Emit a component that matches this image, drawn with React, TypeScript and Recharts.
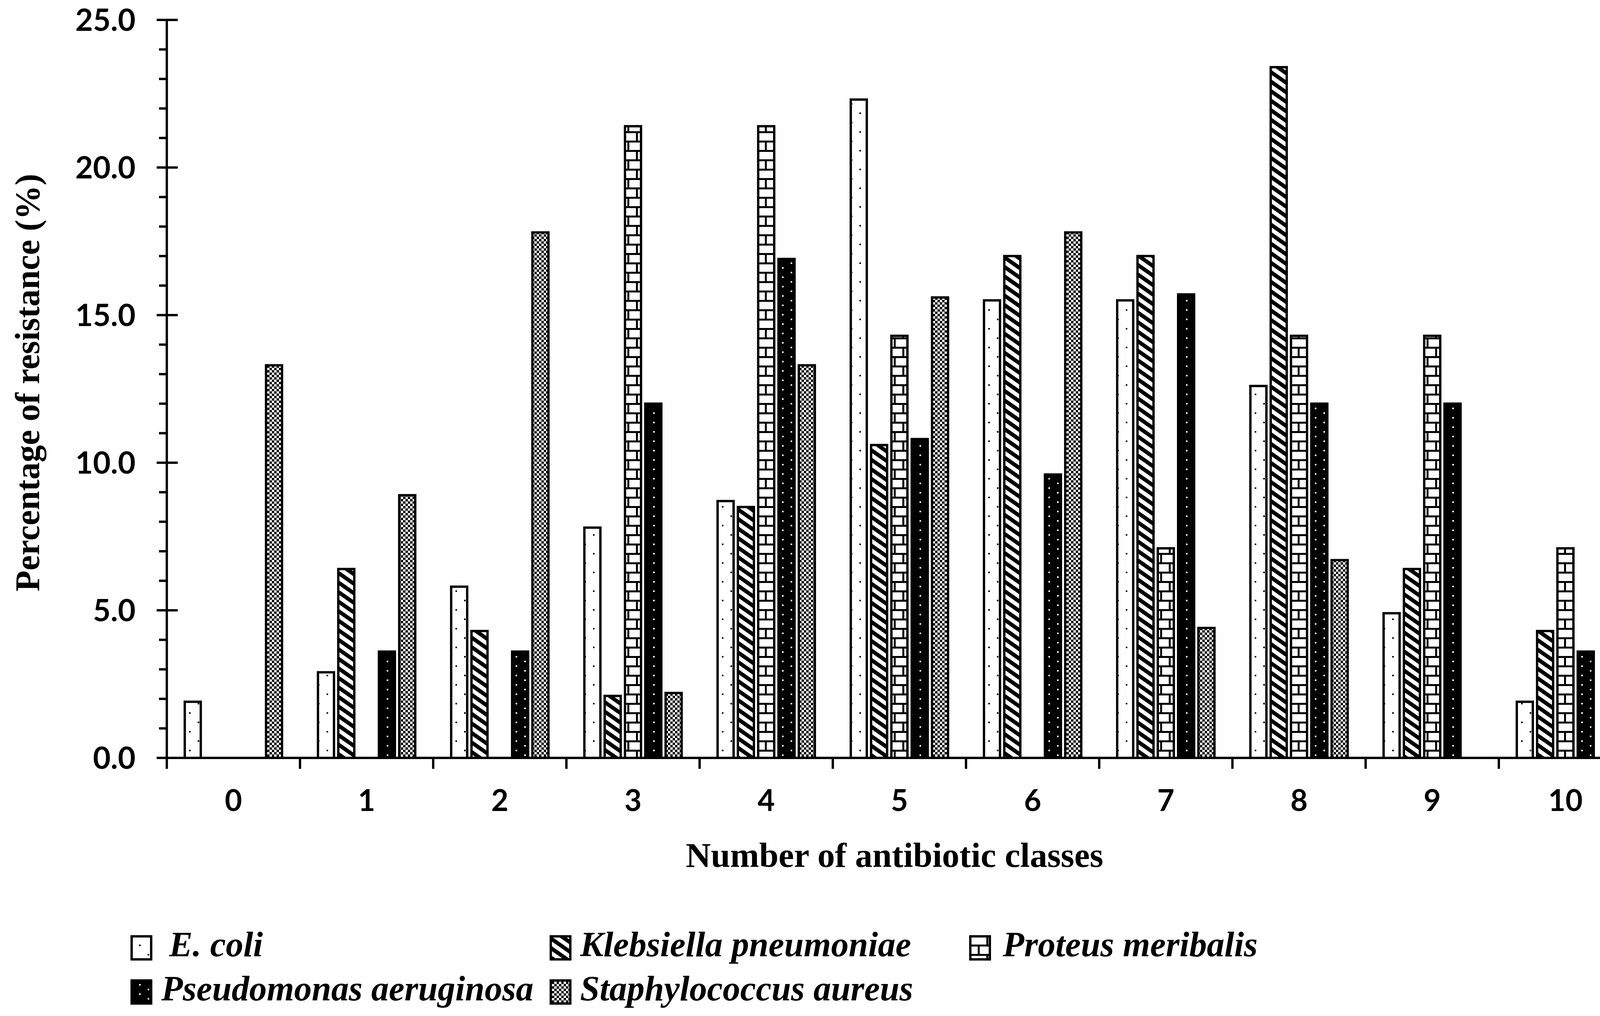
import { Bar, BarChart, Legend, XAxis, YAxis } from "recharts";

const CLASSES = ["0", "1", "2", "3", "4", "5", "6", "7", "8", "9", "10"];

const E_COLI = [1.9, 2.9, 5.8, 7.8, 8.7, 22.3, 15.5, 15.5, 12.6, 4.9, 1.9];
const KLEBSIELLA = [0, 6.4, 4.3, 2.1, 8.5, 10.6, 17.0, 17.0, 23.4, 6.4, 4.3];
const PROTEUS = [0, 0, 0, 21.4, 21.4, 14.3, 0, 7.1, 14.3, 14.3, 7.1];
const PSEUDOMONAS = [0, 3.6, 3.6, 12.0, 16.9, 10.8, 9.6, 15.7, 12.0, 12.0, 3.6];
const STAPHYLOCOCCUS = [13.3, 8.9, 17.8, 2.2, 13.3, 15.6, 17.8, 4.4, 6.7, 0, 0];

const Y_TICKS = [
  0, 1, 2, 3, 4, 5, 6, 7, 8, 9, 10, 11, 12, 13, 14, 15, 16, 17, 18, 19, 20,
  21, 22, 23, 24, 25,
];

const data = CLASSES.map((cls, i) => ({
  cls,
  ecoli: E_COLI[i],
  kleb: KLEBSIELLA[i],
  proteus: PROTEUS[i],
  pseudo: PSEUDOMONAS[i],
  staph: STAPHYLOCOCCUS[i],
}));

const W = 4208;
const H = 2602;
const AXIS_X = 427;
const RIGHT = 30;
const BAND = (W - AXIS_X - RIGHT) / CLASSES.length;

const SANS = "Lato, 'Open Sans', sans-serif";
const SERIF = "'Liberation Serif', 'Times New Roman', serif";

// legend slots: [swatch x, text x, swatch top, baseline]
const LEGEND_POS = [
  [334, 433, 2395, 2449],
  [1407, 1485, 2395, 2449],
  [2481, 2567, 2395, 2449],
  [334, 413, 2508, 2562],
  [1407, 1485, 2508, 2562],
];

function Patterns() {
  return (
    <svg width={0} height={0} style={{ position: "absolute" }}>
      <defs>
        <pattern id="pEcoli" width={44} height={48} patternUnits="userSpaceOnUse">
          <rect width={44} height={48} fill="#fff" />
          <rect x={0} y={0} width={4} height={4} fill="#000" />
          <rect x={22} y={24} width={4} height={4} fill="#000" />
        </pattern>
        <pattern
          id="pKleb"
          width={20}
          height={20}
          patternUnits="userSpaceOnUse"
          patternTransform="rotate(35)"
        >
          <rect width={20} height={20} fill="#fff" />
          <rect width={20} height={10} fill="#000" />
        </pattern>
        <pattern id="pProteus" width={44} height={48} patternUnits="userSpaceOnUse">
          <rect width={44} height={48} fill="#fff" />
          <rect x={0} y={0} width={44} height={5} fill="#000" />
          <rect x={0} y={24} width={44} height={5} fill="#000" />
          <rect x={0} y={5} width={5} height={19} fill="#000" />
          <rect x={22} y={29} width={5} height={19} fill="#000" />
        </pattern>
        <pattern id="pPseudo" width={44} height={24} patternUnits="userSpaceOnUse">
          <rect width={44} height={24} fill="#000" />
          <rect x={0} y={0} width={4} height={4} fill="#fff" />
          <rect x={22} y={12} width={4} height={4} fill="#fff" />
        </pattern>
        <pattern id="pStaph" width={12} height={12} patternUnits="userSpaceOnUse">
          <rect width={12} height={12} fill="#fff" />
          <rect x={0} y={0} width={6} height={6} fill="#000" />
          <rect x={6} y={6} width={6} height={6} fill="#000" />
        </pattern>
      </defs>
    </svg>
  );
}

function YTick(props: any) {
  const { x, y, payload } = props;
  const major = payload.value % 5 === 0;
  return (
    <g>
      <line
        x1={major ? x - 26 : x - 20}
        x2={major ? x + 28 : x}
        y1={y}
        y2={y}
        stroke="#000"
        strokeWidth={6}
      />
      {major && (
        <text
          x={x - 80}
          y={y}
          dy="0.36em"
          textAnchor="end"
          fontFamily={SANS}
          fontWeight={700}
          fontSize={78}
          fill="#000"
        >
          {payload.value.toFixed(1)}
        </text>
      )}
    </g>
  );
}

function XTick(props: any) {
  const { x, y, payload, index } = props;
  const last = index === CLASSES.length - 1;
  return (
    <g>
      <line x1={x - BAND / 2} x2={x - BAND / 2} y1={y} y2={y + 28} stroke="#000" strokeWidth={6} />
      {last && (
        <line x1={x + BAND / 2} x2={x + BAND / 2} y1={y} y2={y + 28} stroke="#000" strokeWidth={6} />
      )}
      <text
        x={x}
        y={y + 136}
        textAnchor="middle"
        fontFamily={SANS}
        fontWeight={700}
        fontSize={76}
        fill="#000"
      >
        {payload.value}
      </text>
    </g>
  );
}

function LegendBlock(props: any) {
  const { payload = [] } = props;
  return (
    <div style={{ position: "relative", width: W, height: H }}>
      {payload.map((entry: any, i: number) => {
        const [sx, tx, sy, base] = LEGEND_POS[i];
        return (
          <div key={entry.value}>
            <svg
              width={56}
              height={65}
              style={{ position: "absolute", left: sx, top: sy }}
            >
              <rect x={3} y={3} width={50} height={59} fill={entry.color} stroke="#000" strokeWidth={6} />
            </svg>
            <svg
              width={1000}
              height={140}
              style={{ position: "absolute", left: tx, top: base - 100 }}
            >
              <text
                x={0}
                y={100}
                fontFamily={SERIF}
                fontStyle="italic"
                fontWeight={700}
                fontSize={90}
                fill="#000"
              >
                {entry.value}
              </text>
            </svg>
          </div>
        );
      })}
    </div>
  );
}

export default function App() {
  return (
    <div
      style={{
        position: "absolute",
        left: 0,
        top: 0,
        width: W,
        height: H,
        background: "#fff",
      }}
    >
      <Patterns />
      <BarChart
        width={W}
        height={H}
        data={data}
        margin={{ top: 51, right: RIGHT, left: 0, bottom: 0 }}
        barSize={41}
        barGap={11}
      >
        <YAxis
          width={AXIS_X}
          domain={[0, 25]}
          ticks={Y_TICKS}
          interval={0}
          tickSize={0}
          tickMargin={0}
          tickLine={false}
          tick={<YTick />}
          axisLine={{ stroke: "#000", strokeWidth: 6 }}
          label={{
            content: () => (
              <text
                x={100}
                y={980}
                transform="rotate(-90, 100, 980)"
                textAnchor="middle"
                fontFamily={SERIF}
                fontWeight={700}
                fontSize={88}
                fill="#000"
              >
                Percentage of resistance (%)
              </text>
            ),
          }}
        />
        <XAxis
          dataKey="cls"
          height={H - 1941}
          interval={0}
          tickSize={0}
          tickMargin={0}
          tickLine={false}
          tick={<XTick />}
          axisLine={{ stroke: "#000", strokeWidth: 6 }}
          label={{
            content: () => (
              <text
                x={2290}
                y={2220}
                textAnchor="middle"
                fontFamily={SERIF}
                fontWeight={700}
                fontSize={89}
                fill="#000"
              >
                Number of antibiotic classes
              </text>
            ),
          }}
        />
        <Legend
          verticalAlign="middle"
          align="center"
          layout="horizontal"
          wrapperStyle={{ left: 0, top: 0, width: W, height: H, pointerEvents: "none" }}
          content={<LegendBlock />}
        />
        <Bar dataKey="ecoli" name=" E. coli" fill="url(#pEcoli)" stroke="#000" strokeWidth={6} isAnimationActive={false} />
        <Bar dataKey="kleb" name="Klebsiella pneumoniae" fill="url(#pKleb)" stroke="#000" strokeWidth={6} isAnimationActive={false} />
        <Bar dataKey="proteus" name="Proteus meribalis" fill="url(#pProteus)" stroke="#000" strokeWidth={6} isAnimationActive={false} />
        <Bar dataKey="pseudo" name="Pseudomonas aeruginosa" fill="url(#pPseudo)" stroke="#000" strokeWidth={6} isAnimationActive={false} />
        <Bar dataKey="staph" name="Staphylococcus aureus" fill="url(#pStaph)" stroke="#000" strokeWidth={6} isAnimationActive={false} />
      </BarChart>
    </div>
  );
}
